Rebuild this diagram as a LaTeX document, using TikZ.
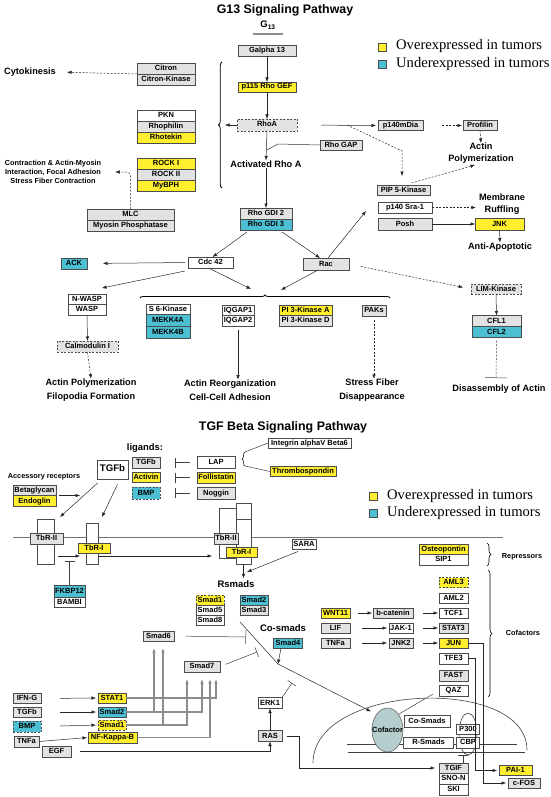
\documentclass[tikz,border=0pt]{standalone}
\usepackage{fontspec}
\setmainfont{Liberation Serif}
\setsansfont{Liberation Sans}
\usetikzlibrary{positioning,arrows.meta,shapes.geometric,decorations.pathreplacing}

\definecolor{ovyellow}{HTML}{FFEF2E}
\definecolor{uncyan}{HTML}{4DBFD2}
\definecolor{boxgray}{HTML}{E2E2E2}
\definecolor{cofgray}{HTML}{B6CDCD}

\newcommand{\boxfont}{\sffamily\bfseries\fontsize{7.5}{8}\selectfont}
\newcommand{\bigfont}{\sffamily\bfseries\fontsize{9.2}{13.5}\selectfont}
\newcommand{\midfont}{\sffamily\bfseries\fontsize{9.2}{12}\selectfont}
\newcommand{\smallfont}{\sffamily\bfseries\fontsize{7.3}{9}\selectfont}
\newcommand{\titlefont}{\sffamily\bfseries\fontsize{12.4}{14}\selectfont}
\newcommand{\legfont}{\rmfamily\fontsize{14.6}{16}\selectfont}

\tikzset{
  gbox/.style={draw=black!70, line width=0.6pt, fill=boxgray, font=\boxfont, inner sep=0pt, outer sep=0pt,
    minimum height=11pt, text height=5.4pt, text depth=1.4pt},
  ybox/.style={gbox, fill=ovyellow},
  cbox/.style={gbox, fill=uncyan},
  wbox/.style={gbox, fill=white},
  dsh/.style={dash pattern=on 2pt off 1.5pt},
  lbl/.style={font=\bigfont, align=center, inner sep=0pt},
  slbl/.style={font=\smallfont, align=center, inner sep=0pt},
  arr/.style={-{Latex[length=4.5pt,width=3.5pt]}, draw=black!85, line width=0.5pt},
  darr/.style={arr, dsh},
  inh/.style={-{Bar[width=10pt]}, draw=black!75, line width=0.5pt},
  sig/.style={arr, draw=black!45, line width=1.2pt, shorten >=7pt},
  rec/.style={draw=black!70, line width=0.6pt, fill=white, inner sep=0pt, outer sep=0pt},
  lsq/.style={draw=black!70, line width=0.5pt, minimum size=8pt, inner sep=0pt},
  legtxt/.style={font=\legfont, anchor=west, inner sep=0pt},
  brc/.style={decorate, line width=0.8pt},
}

\begin{document}
\begin{tikzpicture}[x=1pt,y=-1pt]
\useasboundingbox (0,0) rectangle (550,797);

% G13 pathway
\node[font=\titlefont] (title1) at (285,10) {G13 Signaling Pathway};
\node[font=\sffamily\bfseries\fontsize{9.5}{11}\selectfont] (g13) at (268,25) {G\textsubscript{13}};
\draw[black!45, line width=1.2pt] (253,34) -- (283,34);

\node[lsq, fill=ovyellow] (ly1) at (382.5,47) {};
\node[legtxt] (lt1) at (396,46) {Overexpressed in tumors};
\node[lsq, fill=uncyan] (lc1) at (382.5,64.5) {};
\node[legtxt] (lt2) at (396,64) {Underexpressed in tumors};

\node[gbox, minimum width=58pt] (galpha) at (267,51) {Galpha 13};
\node[ybox, minimum width=58pt, minimum height=10pt] (p115) at (267,87) {p115 Rho GEF};
\node[gbox, dsh, minimum width=60pt, minimum height=12pt] (rhoa) at (267,125) {RhoA};
\node[lbl] (actrho) at (266,164) {Activated Rho A};
\node[gbox, minimum width=42pt, minimum height=10pt] (rhogap) at (341,145) {Rho GAP};
\node[gbox, minimum width=52pt] (gdi2) at (266,213.5) {Rho GDI 2};
\node[cbox, minimum width=52pt, below=0pt of gdi2] (gdi3) {Rho GDI 3};

\node[gbox, minimum width=58pt] (citron) at (166,68.5) {Citron};
\node[gbox, minimum width=58pt, below=0pt of citron] (citronk) {Citron-Kinase};
\node[wbox, minimum width=58pt] (pkn) at (166,115.5) {PKN};
\node[gbox, minimum width=58pt, below=0pt of pkn] (rhophilin) {Rhophilin};
\node[ybox, minimum width=58pt, below=0pt of rhophilin] (rhotekin) {Rhotekin};
\node[ybox, minimum width=58pt] (rock1) at (166,163.5) {ROCK I};
\node[gbox, minimum width=58pt, below=0pt of rock1] (rock2) {ROCK II};
\node[ybox, minimum width=58pt, below=0pt of rock2] (mybph) {MyBPH};
\node[gbox, minimum width=87pt] (mlc) at (130.5,214.5) {MLC};
\node[gbox, minimum width=87pt, below=0pt of mlc] (myosin) {Myosin Phosphatase};

\node[lbl] (cytok) at (30,72) {Cytokinesis};
\node[slbl] (ctxt) at (53,172) {Contraction \& Actin-Myosin\\Interaction, Focal Adhesion\\Stress Fiber Contraction};

\node[gbox, minimum width=45pt, minimum height=10pt] (p140mdia) at (400.5,125.5) {p140mDia};
\node[gbox, minimum width=34pt, minimum height=10pt] (profilin) at (480,125.5) {Profilin};
\node[lbl, font=\midfont] (actpol) at (481,153.5) {Actin\\Polymerization};
\node[gbox, minimum width=53pt, minimum height=10pt] (pip5) at (403.5,190) {PIP 5-Kinase};
\node[wbox, minimum width=54pt] (sra) at (405,207.5) {p140 Sra-1};
\node[gbox, minimum width=54pt, minimum height=12pt] (posh) at (405,224) {Posh};
\node[lbl, font=\midfont] (memb) at (502,204) {Membrane\\Ruffling};
\node[ybox, minimum width=49pt, minimum height=12pt] (jnk) at (499.5,224) {JNK};
\node[lbl] (antiapo) at (500,247) {Anti-Apoptotic};

\node[gbox, minimum width=46pt, minimum height=12pt] (rac) at (326,264) {Rac};
\node[gbox, dsh, minimum width=50pt, minimum height=10pt] (limk) at (496,289) {LIM-Kinase};
\node[gbox, minimum width=49pt] (cfl1) at (496.5,321) {CFL1};
\node[cbox, minimum width=49pt, below=0pt of cfl1] (cfl2) {CFL2};
\node[lbl] (disas) at (499,389) {Disassembly of Actin};

\node[wbox, minimum width=45pt] (cdc42) at (210.5,262.5) {Cdc 42};
\node[cbox, minimum width=26pt] (ack) at (74,263.5) {ACK};
\node[wbox, minimum width=38pt, minimum height=10pt] (nwasp) at (87,299) {N-WASP};
\node[wbox, minimum width=38pt, below=0pt of nwasp] (wasp) {WASP};
\node[gbox, dsh, minimum width=61pt] (calm) at (87.5,346.5) {Calmodulin I};
\node[lbl] (afp) at (91,390) {Actin Polymerization\\Filopodia Formation};

\node[wbox, minimum width=44pt, minimum height=10pt] (s6k) at (168,309.5) {S 6-Kinase};
\node[cbox, minimum width=44pt, minimum height=12pt, below=0pt of s6k] (mekk4a) {MEKK4A};
\node[cbox, minimum width=44pt, minimum height=12pt, below=0pt of mekk4a] (mekk4b) {MEKK4B};
\node[wbox, minimum width=32pt, minimum height=10pt] (iqgap1) at (238,310) {IQGAP1};
\node[wbox, minimum width=32pt, minimum height=11pt, below=0pt of iqgap1] (iqgap2) {IQGAP2};
\node[lbl] (ar) at (230,390) {Actin Reorganization\\Cell-Cell Adhesion};
\node[ybox, minimum width=53pt, minimum height=10pt] (pi3ka) at (305.5,310) {PI 3-Kinase A};
\node[gbox, minimum width=53pt, minimum height=11pt, below=0pt of pi3ka] (pi3kd) {PI 3-Kinase D};
\node[gbox, minimum width=24pt] (paks) at (374,310.5) {PAKs};
\node[lbl] (sfd) at (372,390) {Stress Fiber\\Disappearance};

\coordinate (rhobr) at (219,125);
\coordinate (gapj) at (278,144);
\coordinate (gapk) at (267,150);
\coordinate (diaj) at (347,125);
\coordinate (diak) at (402,151);
\coordinate (racup) at (366,211);
\coordinate (racbr) at (281,290);
\coordinate (cdcbr) at (251,289);
\coordinate (disbar) at (496,378);

\draw[brc, decoration={brace, amplitude=3.5pt}] (222,188) -- (222,62);
\draw[brc, decoration={brace, amplitude=3pt}] (140,298) -- (390,298);

\draw[arr] (galpha.south) -- (p115.north);
\draw[arr] (p115.south) -- (rhoa.north);
\draw[arr, shorten >=6pt] (rhoa.west) -- (rhobr);
\draw[arr] (rhoa.south) -- (actrho.north);
\draw[black!80, line width=0.5pt] (rhogap.west) -- (gapj) -- (gapk);
\draw[arr, shorten <=24pt, shorten >=2pt] (rhoa.east) -- (p140mdia.west);
\draw[darr, shorten >=9pt] (diaj) -- (diak) -- (diak |- pip5.north);
\draw[darr, shorten <=19pt, shorten >=1pt] (p140mdia.east) -- (profilin.west);
\draw[darr] (profilin.south) -- (actpol.north);
\draw[darr] ([xshift=8pt,yshift=2pt]pip5.north) -- ([xshift=-6pt,yshift=-1pt]actpol.south);
\draw[darr, shorten >=3pt] (sra.east) -- (sra.east -| memb.west);
\draw[arr] (posh.east) -- (jnk.west);
\draw[arr] (jnk.south) -- (antiapo.north);
\draw[arr] (actrho.south) -- (gdi2.north);
\draw[darr, shorten >=11pt] (citronk.north west) -- (cytok.east);
\draw[darr, rounded corners=4pt, shorten >=14pt] (mlc.north) |- (ctxt.east);

\draw[arr] ([xshift=-10pt,yshift=-2pt]gdi3.south east) -- ([xshift=-6pt]rac.north);
\draw[arr] ([xshift=7pt,yshift=-2pt]gdi3.south west) -- ([xshift=2pt]cdc42.north);
\draw[arr] ([xshift=2pt]rac.north) -- (racup);
\draw[darr, shorten <=12pt, shorten >=8pt] (rac.east) -- (limk.west);
\draw[arr] ([xshift=-8pt]rac.south) -- (racbr);
\draw[arr, shorten <=3pt, shorten >=16pt] (cdc42.west) -- (ack.east);
\draw[arr] ([xshift=-3pt,yshift=-3pt]cdc42.south west) -- ([xshift=-4pt,yshift=6pt]nwasp.north east);
\draw[arr] ([yshift=-1pt]cdc42.south) -- (cdcbr);
\draw[arr] (limk.south) -- (cfl1.north);
\draw[dsh, -{Bar[width=22pt]}, black!75, line width=0.5pt] ([yshift=-3pt]cfl2.south) -- (disbar);
\draw[arr] (wasp.south) -- (calm.north);
\draw[darr] (calm.south) -- (afp.north);
\draw[arr, shorten <=4pt] (iqgap2.south) -- (iqgap2.south |- ar.north);
\draw[darr, shorten <=4pt] (paks.south) -- (paks.south |- sfd.north);

% TGF beta pathway
\node[font=\titlefont] (title2) at (283,427) {TGF Beta Signaling Pathway};
\node[lbl, font=\sffamily\bfseries\fontsize{9.4}{11}\selectfont] (ligands) at (145,448) {ligands:};
\node[wbox, minimum width=31pt, minimum height=19pt, font=\sffamily\bfseries\fontsize{9.6}{11}\selectfont] (tgfbig) at (112.5,469.5) {TGFb};
\node[gbox, minimum width=28pt] (tgfb) at (146,462.5) {TGFb};
\node[ybox, minimum width=28pt, minimum height=10pt] (activin) at (146,477.5) {Activin};
\node[cbox, dsh, minimum width=28pt, minimum height=12pt] (bmp1) at (146,493) {BMP};
\node[wbox, minimum width=38pt, minimum height=12pt] (lap) at (216,462.5) {LAP};
\node[ybox, minimum width=38pt] (follist) at (216,477.5) {Follistatin};
\node[gbox, minimum width=38pt, minimum height=12pt] (noggin) at (216,493) {Noggin};
\node[wbox, minimum width=83pt, minimum height=10pt] (integrin) at (309.5,443) {Integrin alphaV Beta6};
\node[ybox, minimum width=66pt, minimum height=10pt] (thrombo) at (303,471.5) {Thrombospondin};

\node[lsq, fill=ovyellow] (ly2) at (373.5,496.5) {};
\node[legtxt] (lt3) at (387,496) {Overexpressed in tumors};
\node[lsq, fill=uncyan] (lc2) at (373.5,513.5) {};
\node[legtxt] (lt4) at (387,513) {Underexpressed in tumors};

\draw[inh, shorten <=7pt, shorten >=15pt] (lap.west) -- (tgfb.east);
\draw[inh, shorten <=7pt, shorten >=15pt] (follist.west) -- (activin.east);
\draw[inh, shorten <=7pt, shorten >=15pt] (noggin.west) -- (bmp1.east);
\coordinate (lbr1) at (245,452);
\coordinate (lbr2) at (245,466);
\draw[brc, line width=0.5pt, decoration={brace, amplitude=3pt}] (lbr2) -- (lbr1);
\draw[black!75, line width=0.5pt] (lbr1) -- (integrin.west);
\draw[black!75, line width=0.5pt] (lbr2) -- (thrombo.west);

\node[slbl] (access) at (44,477) {Accessory receptors};
\node[gbox, minimum width=43pt, minimum height=10pt] (betagly) at (34.5,490.5) {Betaglycan};
\node[ybox, minimum width=43pt, below=0pt of betagly] (endoglin) {Endoglin};

% membrane and receptors
\draw[black!55, line width=0.6pt] (13,537) -- (503,537);
\node[rec, minimum width=17pt, minimum height=45pt] (r2) at (45.5,541.5) {};
\node[rec, minimum width=12pt, minimum height=41pt] (r1) at (92,543.5) {};
\node[rec, minimum width=17pt, minimum height=50pt] (ra) at (227.5,533) {};
\node[rec, minimum width=15pt, minimum height=61pt] (rb) at (243.5,533.5) {};
\draw[black!70, line width=0.6pt] (236,519) -- (251,519);
\node[gbox, minimum width=33pt] (tbr2) at (46.5,538.5) {TbR-II};
\node[ybox, minimum width=32pt, minimum height=10pt] (tbr1) at (94,548) {TbR-I};
\node[gbox, minimum width=24pt] (tbr2b) at (226,538.5) {TbR-II};
\node[ybox, minimum width=31pt, minimum height=10pt] (tbr1b) at (241.5,552.5) {TbR-I};
\node[wbox, minimum width=24pt, minimum height=10pt] (sara) at (304,544.5) {SARA};
\node[cbox, minimum width=31pt, minimum height=12pt] (fkbp12) at (69.5,591) {FKBP12};
\node[wbox, minimum width=31pt, minimum height=10pt, below=0pt of fkbp12] (bambi) {BAMBI};

\coordinate (accend) at (80,495.5);
\coordinate (r2tip) at (60,517);
\coordinate (r1tip) at (102,517);
\coordinate (fkbar) at (69.5,561);
\coordinate (saratip) at (247,572);
\draw[arr, shorten <=3pt] (betagly.south east) -- (accend);
\draw[arr, shorten <=6pt] ([xshift=5pt]tgfbig.south west) -- (r2tip);
\draw[arr, shorten <=6pt] ([xshift=-8pt]tgfbig.south east) -- (r1tip);
\draw[arr, shorten <=4pt, shorten >=6pt] ([yshift=-14.5pt]r2.east) -- ([yshift=-12.5pt]r1.west);
\draw[inh] (fkbp12.north) -- (fkbar);
\draw[arr, shorten >=7pt] ([yshift=-12.5pt]r1.east) -- ([yshift=-23pt]ra.west);
\draw[arr] ([xshift=6pt,yshift=-2pt]sara.south west) -- (saratip);

\node[lbl, font=\sffamily\bfseries\fontsize{9.5}{11}\selectfont] (rsmads) at (236,584) {Rsmads};
\draw[arr, shorten >=2pt] (rb.south) -- (rb.south |- rsmads.north);
\node[ybox, dsh, minimum width=28pt, minimum height=10pt] (smad1a) at (210,600) {Smad1};
\node[wbox, minimum width=28pt, minimum height=10pt, below=0pt of smad1a] (smad5) {Smad5};
\node[wbox, minimum width=28pt, minimum height=10pt, below=0pt of smad5] (smad8) {Smad8};
\node[cbox, minimum width=28pt, minimum height=10pt] (smad2a) at (254,600) {Smad2};
\node[gbox, minimum width=28pt, minimum height=10pt, below=0pt of smad2a] (smad3) {Smad3};
\node[lbl, font=\sffamily\bfseries\fontsize{9.5}{11}\selectfont] (cosmads) at (283,628) {Co-smads};
\node[cbox, minimum width=29pt, minimum height=10pt] (smad4) at (288,643) {Smad4};
\node[gbox, minimum width=31pt, minimum height=10pt] (smad6) at (158.5,636) {Smad6};
\node[gbox, minimum width=36pt] (smad7) at (202,666.5) {Smad7};
\node[wbox, minimum width=24pt] (erk1) at (270,703) {ERK1};
\node[gbox, minimum width=24pt] (ras) at (270,736) {RAS};
\node[gbox, minimum width=29pt] (egf) at (56.5,751.5) {EGF};

\node[gbox, minimum width=28pt, minimum height=10pt] (ifng) at (27,698.5) {IFN-G};
\node[gbox, minimum width=28pt, minimum height=10pt] (tgfb2) at (27,712) {TGFb};
\node[cbox, dsh, minimum width=28pt] (bmp2) at (27,726.5) {BMP};
\node[gbox, minimum width=25pt] (tnfa1) at (26.5,741.5) {TNFa};
\node[ybox, minimum width=28pt, minimum height=10pt] (stat1) at (112,698) {STAT1};
\node[cbox, minimum width=28pt, minimum height=10pt] (smad2b) at (112,712) {Smad2};
\node[ybox, dsh, minimum width=28pt, minimum height=10pt] (smad1b) at (112,725) {Smad1};
\node[ybox, minimum width=49pt] (nfkb) at (112.5,737.5) {NF-Kappa-B};

\coordinate (dtop) at (240,622);
\coordinate (bend) at (278,664);
\coordinate (s6bar) at (246,637);
\coordinate (s7bar) at (257,652);
\coordinate (erkbar) at (292,683);

\draw[inh, -{Bar[width=14pt]}, shorten <=12pt] (smad6.east) -- (s6bar);
\draw[inh, shorten <=6pt] (smad7.east) -- (s7bar);
\draw[arr] ([xshift=-7pt]smad4.south) -- (bend);
\draw[inh] (erk1.north east) -- (erkbar);
\draw[arr] (ras.north) -- (erk1.south);
\draw[arr, shorten <=9pt] (egf.east) -| (ras.south);
\draw[arr, shorten <=19pt, shorten >=2pt] (ifng.east) -- (stat1.west);
\draw[arr, shorten <=19pt, shorten >=2pt] (tgfb2.east) -- (smad2b.west);
\draw[arr, shorten <=19pt, shorten >=2pt] (bmp2.east) -- (smad1b.west);
\draw[arr, shorten <=1pt, shorten >=1pt] (tnfa1.east) -- (nfkb.west);
\draw[sig] (stat1.east) -| ([xshift=14pt]smad7.south);
\draw[sig] (smad2b.east) -| (smad7.south);
\draw[sig] (smad2b.east) -| ([xshift=-4.5pt]smad6.south);
\draw[sig] (smad1b.east) -| ([xshift=-15pt]smad7.south);
\draw[sig] (smad1b.east) -| ([xshift=4.5pt]smad6.south);
\draw[sig] (nfkb.east) -| ([xshift=8pt]smad7.south);

% repressors and cofactors
\node[ybox, minimum width=49pt, minimum height=10pt] (osteo) at (443.5,549) {Osteopontin};
\node[wbox, minimum width=49pt, below=0pt of osteo] (sip1) {SIP1};
\draw[brc, line width=0.6pt, decoration={brace, amplitude=4pt}] (487,543) -- (487,566);
\node[slbl] (repress) at (522,557) {Repressors};
\node[ybox, dsh, minimum width=29pt, minimum height=10pt] (aml3) at (453.5,582.5) {AML3};
\node[wbox, minimum width=29pt, minimum height=10pt] (aml2) at (453.5,598) {AML2};
\node[wbox, minimum width=29pt, minimum height=10pt] (tcf1) at (453.5,613) {TCF1};
\node[gbox, minimum width=29pt, minimum height=10pt] (stat3) at (453.5,628) {STAT3};
\node[ybox, minimum width=29pt, minimum height=10pt] (jun) at (453.5,643) {JUN};
\node[wbox, minimum width=29pt] (tfe3) at (453.5,658.5) {TFE3};
\node[gbox, minimum width=29pt] (fast) at (453.5,675.5) {FAST};
\node[wbox, minimum width=29pt] (qaz) at (453.5,690.5) {QAZ};
\draw[brc, line width=0.6pt, decoration={brace, amplitude=4pt}] (488,570) -- (488,697);
\node[slbl] (cofact) at (523,633) {Cofactors};

\node[ybox, minimum width=29pt, minimum height=10pt] (wnt11) at (335.5,613) {WNT11};
\node[gbox, minimum width=40pt, minimum height=10pt] (bcat) at (393,613) {b-catenin};
\node[gbox, minimum width=29pt, minimum height=10pt] (lif) at (335.5,628) {LIF};
\node[wbox, minimum width=24pt, minimum height=10pt] (jak1) at (401,628) {JAK-1};
\node[gbox, minimum width=29pt, minimum height=10pt] (tnfa2) at (335.5,643) {TNFa};
\node[gbox, minimum width=24pt, minimum height=10pt] (jnk2) at (401,643) {JNK2};
\draw[arr, shorten <=8pt, shorten >=1pt] (wnt11.east) -- (bcat.west);
\draw[arr, shorten <=10pt, shorten >=1pt] (bcat.east) -- (tcf1.west);
\draw[arr, shorten <=12pt, shorten >=2pt] (lif.east) -- (jak1.west);
\draw[arr, shorten <=10pt, shorten >=1pt] (jak1.east) -- (stat3.west);
\draw[arr, shorten <=12pt, shorten >=2pt] (tnfa2.east) -- (jnk2.west);
\draw[arr, shorten <=10pt, shorten >=1pt] (jnk2.east) -- (jun.west);

% nucleus
\draw[black!75, line width=0.6pt] (313,763) .. controls (313,683) and (527,675) .. (527,750);
\draw[black!75, line width=0.6pt] (347,744) -- (517,744);
\draw[black!75, line width=0.6pt] (348,752) -- (525,752);
\draw[black!75, line width=0.6pt] (468,734) ellipse [x radius=9, y radius=21];
\node[ellipse, draw=black!60, line width=0.6pt, fill=cofgray, minimum width=31pt, minimum height=44pt, inner sep=0pt] (cof) at (387.5,730) {};
\node[font=\boxfont, inner sep=0pt] (coft) at (cof.center) {Cofactor};
\node[wbox, minimum width=46pt, minimum height=12pt] (cosm) at (427,721) {Co-Smads};
\node[wbox, minimum width=50pt] (rsm) at (428.5,742.5) {R-Smads};
\node[wbox, minimum width=23pt, minimum height=10pt] (p300) at (468,729) {P300};
\node[wbox, minimum width=23pt] (cbp) at (468,742.5) {CBP};
\node[gbox, minimum width=29pt, minimum height=10pt] (tgif) at (453.5,768) {TGIF};
\node[wbox, minimum width=29pt, below=0pt of tgif] (snon) {SNO-N};
\node[wbox, minimum width=29pt, below=0pt of snon] (ski) {SKI};
\node[ybox, minimum width=33pt, minimum height=10pt] (pai1) at (515.5,770.5) {PAI-1};
\node[gbox, minimum width=32pt, minimum height=10pt] (cfos) at (524,783) {c-FOS};

\coordinate (cbpbar) at (463,755);
\draw[arr, shorten >=6pt] (dtop) -- (bend) -- (cof.north west);
\draw[black!75, line width=0.5pt, shorten <=7pt] (qaz.west) -- (cof.north east);
\draw[inh] ([xshift=9.5pt]tgif.north) -- (cbpbar);
\draw[arr, shorten <=5pt, shorten >=4pt] (ras.east) -- ++(17,0) |- (tgif.west);
\draw[arr, shorten >=2pt] (jun.east) -- ++(15,0) |- (cfos.west);
\draw[arr, shorten >=2pt] (tfe3.east) -- ++(7,0) |- (pai1.west);
\end{tikzpicture}
\end{document}
